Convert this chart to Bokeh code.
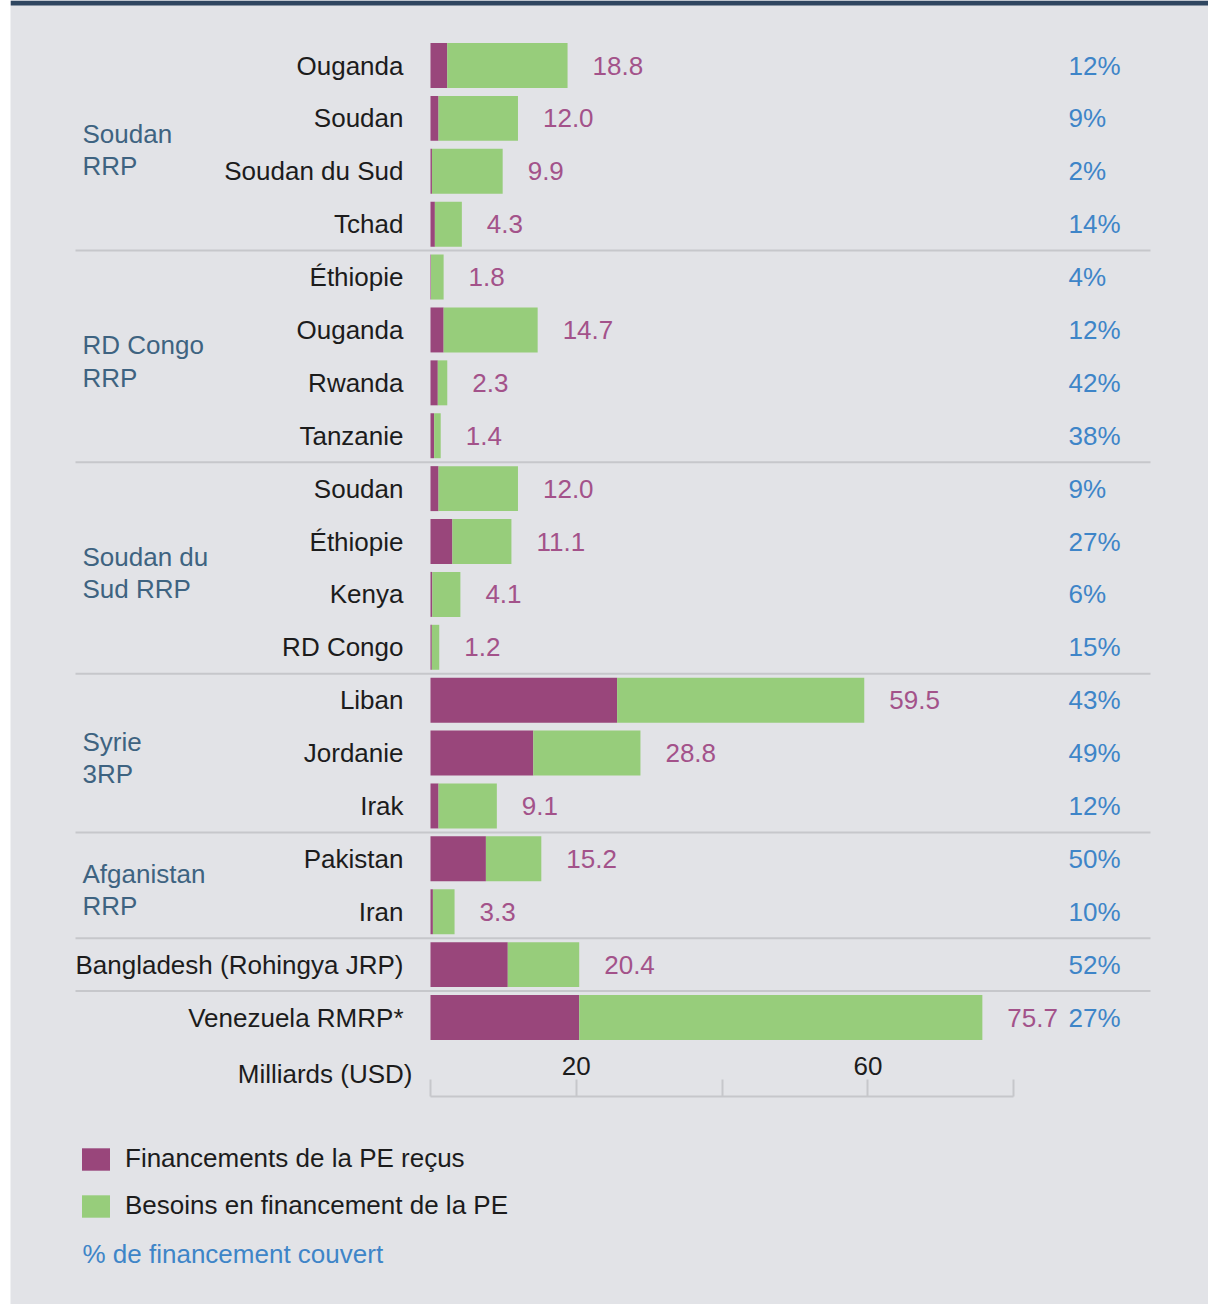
import numpy as np
from bokeh.plotting import figure
from bokeh.models import (Range1d, LinearAxis, FixedTicker, Legend, LegendItem,
                          Label, ColumnDataSource)
from bokeh.embed import file_html
from bokeh.resources import INLINE
from bokeh.core.properties import value

# ---------------- data ----------------
group_names = ["Soudan\nRRP", "RD Congo\nRRP", "Soudan du\nSud RRP", "Syrie\n3RP",
               "Afganistan\nRRP", "", ""]
group_sizes = [4, 4, 4, 3, 2, 1, 1]
countries = ["Ouganda", "Soudan", "Soudan du Sud", "Tchad",
             "Éthiopie", "Ouganda", "Rwanda", "Tanzanie",
             "Soudan", "Éthiopie", "Kenya", "RD Congo",
             "Liban", "Jordanie", "Irak",
             "Pakistan", "Iran",
             "Bangladesh (Rohingya JRP)",
             "Venezuela RMRP*"]
needs_total = [18.8, 12.0, 9.9, 4.3,
               1.8, 14.7, 2.3, 1.4,
               12.0, 11.1, 4.1, 1.2,
               59.5, 28.8, 9.1,
               15.2, 3.3,
               20.4,
               75.7]
funding_received = [2.3, 1.1, 0.2, 0.6,
                    0.07, 1.8, 1.0, 0.5,
                    1.1, 3.0, 0.25, 0.18,
                    25.6, 14.1, 1.1,
                    7.6, 0.33,
                    10.6,
                    20.4]
pct_covered = [12, 9, 2, 14,
               4, 12, 42, 38,
               9, 27, 6, 15,
               43, 49, 12,
               50, 10,
               52,
               27]
x_ticks = [0, 20, 40, 60, 80]
x_tick_labels = {0: "", 20: "20", 40: "", 60: "60", 80: ""}
legend_labels = ["Financements de la PE reçus", "Besoins en financement de la PE"]
pct_legend = "% de financement couvert"
axis_title = "Milliards (USD)"

# ---------------- style ----------------
FONT = "Liberation Sans"
FS = "26px"
BG = "#e2e3e7"
NAVY = "#2f4660"
PURPLE = "#99467b"
GREEN = "#97cd7b"
VAL = "#a3528a"
PCT = "#3e85c8"
GRP = "#3e6381"
DARK = "#1c1c1c"
SEP = "#c6c7cb"

W, H = 1208, 1304
LEFT_PAD = 10            # white strip at the left
PX_PER_UNIT = 7.29
ZERO_PX = 430            # page x of value 0
ROW_PX = 52.89           # pixels per row
ROW0_PX = 65             # page y of first row centre

def px_to_x(px):
    return (px - ZERO_PX) / PX_PER_UNIT

def py_to_row(py):
    return (py - ROW0_PX) / ROW_PX

x_range = Range1d(px_to_x(LEFT_PAD), px_to_x(W))
y_range = Range1d(py_to_row(H), py_to_row(0))

p = figure(width=W, height=H, x_range=x_range, y_range=y_range,
           output_backend="svg", toolbar_location=None,
           x_axis_location=None, y_axis_location=None,
           min_border=0, min_border_left=LEFT_PAD,
           background_fill_color=BG, border_fill_color="white",
           outline_line_color=None)
p.grid.grid_line_color = None

# top navy band
p.quad(left=px_to_x(LEFT_PAD), right=px_to_x(W), top=py_to_row(0),
       bottom=py_to_row(5), fill_color=NAVY, line_color=None)

rows = np.arange(len(countries))
src = ColumnDataSource(dict(
    y=rows, country=countries, total=needs_total, received=funding_received,
    total_label=[f"{v:.1f}" for v in needs_total],
    pct_label=[f"{v}%" for v in pct_covered],
))

BAR_H = 0.85
r_rec = p.hbar(y="y", left=0, right="received", height=BAR_H, source=src,
               fill_color=PURPLE, line_color=None)
r_need = p.hbar(y="y", left="received", right="total", height=BAR_H, source=src,
                fill_color=GREEN, line_color=None)

common = dict(text_font=value(FONT), text_font_size=FS, text_baseline="middle")
p.text(x=0, y="y", text="country", source=src, x_offset=-27, text_align="right",
       text_color=DARK, **common)
p.text(x="total", y="y", text="total_label", source=src, x_offset=25,
       text_align="left", text_color=VAL, **common)
p.text(x=0, y="y", text="pct_label", source=src, x_offset=638,
       text_align="left", text_color=PCT, **common)

# group labels & separators
ends = np.cumsum(group_sizes)
starts = ends - np.array(group_sizes)
g_center = [(s + e - 1) / 2 for s, e in zip(starts, ends)]
gsrc = ColumnDataSource(dict(y=g_center, name=group_names))
p.text(x=0, y="y", text="name", source=gsrc, x_offset=82 - ZERO_PX, y_offset=5,
       text_align="left", text_color=GRP, text_line_height=1.08, **common)

sep_y = [e - 0.5 for e in ends[:-1]]
p.segment(x0=px_to_x(75), x1=px_to_x(1150), y0=sep_y, y1=sep_y,
          line_color=SEP, line_width=2)

# x axis drawn inside the frame
AXIS_ROW = py_to_row(1095.5)
ax = LinearAxis(fixed_location=AXIS_ROW, ticker=FixedTicker(ticks=x_ticks),
                bounds=(x_ticks[0], x_ticks[-1]),
                major_label_overrides=x_tick_labels,
                axis_line_color=SEP, axis_line_width=2,
                major_tick_line_color=SEP, major_tick_line_width=2,
                major_tick_in=0, major_tick_out=17,
                minor_tick_line_color=None,
                major_label_standoff=4,
                major_label_text_font=FONT, major_label_text_font_size=FS,
                major_label_text_color=DARK)
p.add_layout(ax, "above")

p.text(x=[0], y=[AXIS_ROW], text=[axis_title], x_offset=-18, y_offset=-22,
       text_align="right", text_color=DARK, **common)

legend = Legend(items=[LegendItem(label=legend_labels[0], renderers=[r_rec]),
                       LegendItem(label=legend_labels[1], renderers=[r_need])],
                location=(82 - 4 - LEFT_PAD, H - 1221), orientation="vertical",
                border_line_color=None, background_fill_alpha=0,
                padding=0, margin=0, spacing=16,
                glyph_width=35, glyph_height=28, label_standoff=12,
                label_height=30, label_text_font=FONT,
                label_text_font_size=FS, label_text_color=DARK)
p.add_layout(legend)

p.add_layout(Label(x=82 - LEFT_PAD, y=H - 1253, x_units="screen", y_units="screen",
                   text=pct_legend, text_baseline="middle",
                   text_font=FONT, text_font_size=FS, text_color=PCT))

open("out.html", "w").write(file_html(p, INLINE))
